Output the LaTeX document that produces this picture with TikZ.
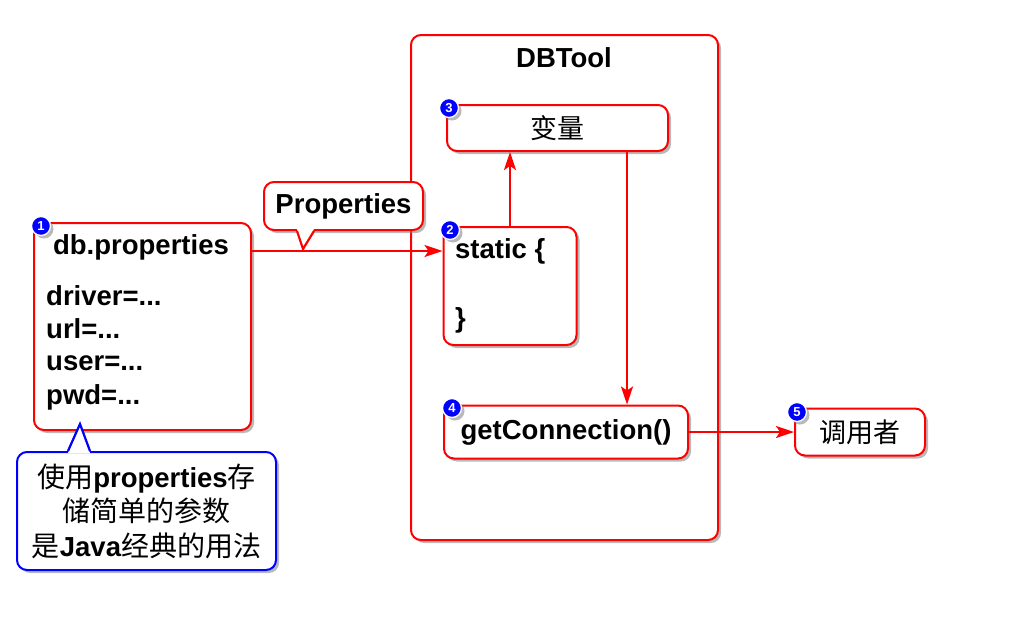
\documentclass[tikz,border=0pt]{standalone}
\usepackage{fontspec}
\setmainfont{Liberation Sans}
\newfontfamily\cjk{Noto Sans CJK SC}
\usetikzlibrary{arrows.meta,calc,shadows}

\newcommand{\zhtxt}[1]{{\cjk\mdseries\fontsize{28}{34.5}\selectfont #1}}

\tikzset{
  shade box/.style={drop shadow={shadow xshift=3pt, shadow yshift=-3pt, fill=black!50, opacity=0.55}},
  box/.style={draw=red, line width=2pt, fill=white, rounded corners=10pt, inner sep=0pt, shade box},
  badge/.style={circle, fill=blue, draw=white, line width=1.3pt, inner sep=0pt, minimum size=19pt,
    text=white, font=\bfseries\fontsize{13}{13}\selectfont, shade box},
  lbl/.style={font=\bfseries\fontsize{27.5}{32}\selectfont},
  zh/.style={font=\cjk\fontsize{27}{30}\selectfont},
  flow/.style={red, line width=2.2pt, -{Stealth[length=18pt,width=12pt,inset=4pt]}},
  tip side/.style={line width=2.2pt, line join=miter},
}

\begin{document}
\begin{tikzpicture}[x=1pt,y=-1pt]

    \useasboundingbox (0,0) rectangle (1024,633);

    % DBTool frame
    \node[box, minimum width=307pt, minimum height=505pt] (tool) at (564.5,287.5) {};
    \node[lbl] (tooltitle) at (564,58) {DBTool};

    \node[box, zh, minimum width=221pt, minimum height=46pt] (var) at (557.5,128) {变量};
    \node[box, minimum width=133pt, minimum height=118pt] (stat) at (510,286) {};
    \node[lbl, anchor=west, inner sep=0pt] (stattxt) at (455,251) {static \{};
    \node[lbl, anchor=west, inner sep=0pt] (statend) at (455,320) {\}};
    \node[box, lbl, minimum width=244pt, minimum height=53pt] (getc) at (566,432) {getConnection()};

    % caller
    \node[box, zh, minimum width=130pt, minimum height=47pt] (caller) at (860,432) {调用者};

    % db.properties
    \node[box, minimum width=217pt, minimum height=207pt] (dbp) at (142.5,326.5) {};
    \node[lbl] (dbptitle) at (141,247) {db.properties};
    \node[lbl, anchor=west, inner sep=0pt] (driver) at (46,296) {driver=...};
    \node[lbl, anchor=west, inner sep=0pt] (url) at (46,329) {url=...};
    \node[lbl, anchor=west, inner sep=0pt] (user) at (46,363) {user=...};
    \node[lbl, anchor=west, inner sep=0pt] (pwd) at (46,397) {pwd=...};

    % connectors
    \coordinate (drop) at (627,0);
    \draw[flow] (dbp.east |- stattxt) -- (stat.west |- stattxt);
    \draw[flow] (stat.north) -- (stat.north |- var.south);
    \draw[flow] (var.south -| drop) -- (getc.north -| drop);
    \draw[flow] (getc.east) -- (caller.west);

    % callouts
    \node[box, lbl, minimum width=159pt, minimum height=48pt] (propnote) at (343.5,206) {Properties};
    \fill[white] ($(propnote.south)+(-46.5,-2)$) -- ($(propnote.south)+(-40.5,18)$) -- ($(propnote.south)+(-29.5,-2)$) -- cycle;
    \draw[red, tip side] ($(propnote.south)+(-46.5,0)$) -- ($(propnote.south)+(-40.5,18)$) -- ($(propnote.south)+(-29.5,0)$);

    \node[box, draw=blue, align=center, minimum width=259pt, minimum height=118pt,
      font=\bfseries\fontsize{27.5}{34.5}\selectfont] (usenote) at (146.5,511)
      {\zhtxt{使用}properties\zhtxt{存}\\\zhtxt{储简单的参数}\\\zhtxt{是}Java\zhtxt{经典的用法}};
    \fill[white] ($(usenote.north)+(-78.5,2)$) -- ($(usenote.north)+(-66.5,-27)$) -- ($(usenote.north)+(-56.5,2)$) -- cycle;
    \draw[blue, tip side] ($(usenote.north)+(-78.5,0)$) -- ($(usenote.north)+(-66.5,-27)$) -- ($(usenote.north)+(-56.5,0)$);

    % step numbers
    \node[badge] (n1) at (41,226) {1};
    \node[badge] (n2) at (450,230) {2};
    \node[badge] (n3) at (449,108) {3};
    \node[badge] (n4) at (452,408) {4};
    \node[badge] (n5) at (797,412) {5};

\end{tikzpicture}
\end{document}
